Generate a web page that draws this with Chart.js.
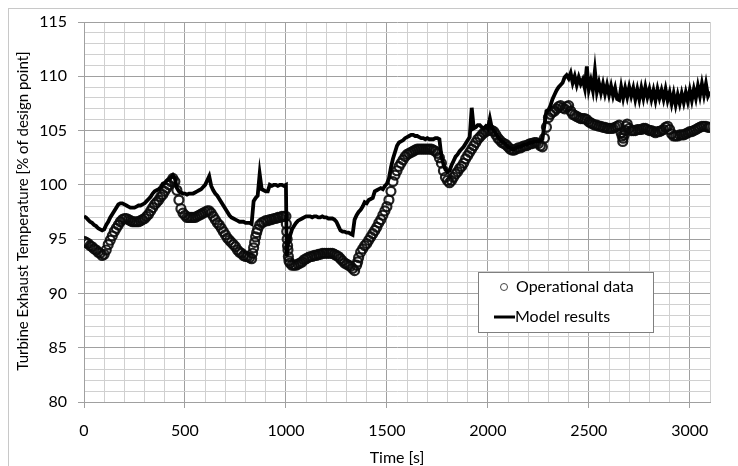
<!DOCTYPE html>
<html>
<head>
<meta charset="utf-8">
<script src="https://cdn.jsdelivr.net/npm/chart.js@4.4.1/dist/chart.umd.min.js"></script>
<style>
  html, body { margin: 0; padding: 0; background: #ffffff; }
  #wrap { position: relative; width: 738px; height: 466px; }
</style>
</head>
<body>
<div id="wrap"><canvas id="c" width="738" height="466"></canvas></div>
<script>
// ---------------- DATA ----------------
const xTitle = 'Time [s]';
const yTitle = 'Turbine Exhaust Temperature [% of design point]';
const seriesNames = ['Operational data', 'Model results'];
const xMajorTicks = [0, 500, 1000, 1500, 2000, 2500, 3000];
const yMajorTicks = [80, 85, 90, 95, 100, 105, 110, 115];
const sampleStep = 10; // seconds between listed samples

// Operational data, one value every 10 s from t = 0 to 3100 s
const opsValues = [
  94.8, 94.7, 94.6, 94.4, 94.3, 94.1, 94.0, 93.8, 93.7, 93.5,
  93.6, 94.0, 94.5, 94.9, 95.3, 95.7, 96.0, 96.3, 96.6, 96.8,
  96.9, 96.9, 96.8, 96.7, 96.6, 96.6, 96.6, 96.6, 96.7, 96.8,
  96.9, 97.1, 97.3, 97.6, 97.9, 98.2, 98.4, 98.6, 98.9, 99.1,
  99.4, 99.7, 100.0, 100.3, 100.6, 100.3, 99.5, 98.6, 97.8, 97.4,
  97.2, 97.0, 97.0, 97.0, 97.0, 97.0, 97.1, 97.2, 97.3, 97.4,
  97.5, 97.6, 97.6, 97.4, 97.1, 96.8, 96.5, 96.3, 96.0, 95.7,
  95.4, 95.1, 94.9, 94.7, 94.5, 94.3, 94.0, 93.8, 93.7, 93.5,
  93.4, 93.4, 93.3, 93.2, 94.2, 95.2, 95.9, 96.3, 96.5, 96.6,
  96.7, 96.7, 96.8, 96.8, 96.9, 96.9, 97.0, 97.0, 97.1, 97.1,
  97.1, 94.0, 92.8, 92.6, 92.6, 92.6, 92.7, 92.8, 92.9, 93.1,
  93.2, 93.3, 93.4, 93.4, 93.5, 93.5, 93.6, 93.6, 93.7, 93.7,
  93.7, 93.7, 93.7, 93.7, 93.6, 93.5, 93.4, 93.2, 93.0, 92.8,
  92.7, 92.6, 92.5, 92.3, 92.1, 92.6, 93.3, 93.8, 94.1, 94.4,
  94.6, 94.9, 95.2, 95.5, 95.8, 96.1, 96.5, 96.8, 97.2, 97.6,
  98.0, 98.6, 99.4, 100.3, 100.9, 101.3, 101.7, 102.0, 102.3, 102.6,
  102.8, 102.9, 103.0, 103.1, 103.2, 103.3, 103.3, 103.3, 103.3, 103.3,
  103.3, 103.3, 103.3, 103.2, 103.1, 102.9, 102.5, 102.0, 101.3, 100.7,
  100.4, 100.2, 100.4, 100.7, 101.0, 101.2, 101.5, 101.7, 102.0, 102.4,
  102.7, 103.0, 103.3, 103.6, 103.9, 104.2, 104.4, 104.6, 104.8, 104.9,
  105.0, 105.1, 105.0, 104.9, 104.6, 104.3, 104.1, 103.9, 103.8, 103.7,
  103.5, 103.3, 103.2, 103.2, 103.3, 103.4, 103.4, 103.5, 103.6, 103.6,
  103.7, 103.8, 103.8, 103.9, 103.9, 103.8, 103.6, 103.5, 104.3, 105.3,
  106.2, 106.5, 106.7, 106.8, 107.0, 107.2, 107.3, 107.1, 107.0, 107.2,
  107.3, 106.8, 106.5, 106.4, 106.3, 106.2, 106.1, 106.1, 106.1, 106.0,
  105.8, 105.7, 105.6, 105.5, 105.5, 105.4, 105.4, 105.3, 105.3, 105.2,
  105.2, 105.2, 105.2, 105.3, 105.4, 105.5, 104.8, 104.3, 105.0, 105.6,
  105.2, 105.0, 105.0, 105.0, 105.1, 105.1, 105.1, 105.2, 105.2, 105.1,
  105.0, 105.0, 104.9, 104.8, 104.9, 104.9, 105.0, 105.1, 105.3, 105.4,
  105.1, 104.7, 104.5, 104.5, 104.5, 104.6, 104.6, 104.6, 104.7, 104.8,
  104.9, 104.9, 105.0, 105.1, 105.2, 105.3, 105.4, 105.4, 105.4, 105.3,
  105.3
];
// Extra operational samples on the steep steps
const opsExtraTime  = [835, 845, 855, 1002, 1004, 1006, 1008, 1012, 1015, 1355, 2665, 2668, 2675, 2685];
const opsExtraValue = [93.7, 94.7, 95.6, 96.4, 95.7, 95.0, 94.4, 93.4, 93.0, 92.9, 104.5, 104.0, 104.6, 105.4];

// Model results, one value every 10 s from t = 0 to 3100 s
const modelValues = [
  97.1, 97.0, 96.8, 96.6, 96.5, 96.3, 96.2, 96.0, 95.9, 95.8,
  95.9, 96.3, 96.6, 97.0, 97.3, 97.6, 97.9, 98.2, 98.3, 98.3,
  98.2, 98.1, 98.0, 97.9, 97.9, 97.9, 98.0, 98.1, 98.1, 98.2,
  98.3, 98.5, 98.7, 98.9, 99.2, 99.4, 99.5, 99.6, 99.8, 100.1,
  100.2, 100.4, 100.5, 100.7, 100.9, 100.6, 99.7, 99.4, 99.3, 99.2,
  99.2, 99.1, 99.2, 99.2, 99.2, 99.3, 99.4, 99.5, 99.6, 99.8,
  100.0, 100.4, 100.8, 99.9, 99.5, 99.2, 99.0, 98.7, 98.4, 98.1,
  97.8, 97.5, 97.2, 97.0, 96.9, 96.8, 96.7, 96.6, 96.6, 96.6,
  96.5, 96.5, 96.5, 96.4, 98.5, 98.8, 99.0, 101.0, 99.6, 99.5,
  99.4, 99.4, 100.0, 99.9, 100.0, 100.0, 99.9, 100.0, 100.0, 99.9,
  100.0, 94.5, 95.3, 95.9, 96.2, 96.5, 96.7, 96.8, 96.9, 97.0,
  97.1, 97.1, 97.1, 97.0, 97.1, 97.1, 97.0, 97.0, 97.1, 97.0,
  97.0, 96.9, 96.9, 96.9, 96.8, 96.6, 96.2, 95.8, 95.7, 95.7,
  95.6, 95.6, 95.5, 95.4, 96.8, 97.2, 97.5, 97.7, 98.0, 98.4,
  98.3, 98.6, 98.7, 98.8, 99.4, 99.5, 99.6, 99.7, 99.6, 99.9,
  100.1, 100.6, 101.6, 102.4, 103.0, 103.6, 103.9, 104.0, 104.1, 104.3,
  104.4, 104.5, 104.6, 104.6, 104.5, 104.5, 104.4, 104.3, 104.3, 104.2,
  104.3, 104.2, 104.2, 104.2, 104.3, 104.3, 104.2, 102.6, 101.9, 101.4,
  101.2, 101.3, 101.8, 102.2, 102.6, 102.8, 103.1, 103.3, 103.5, 103.8,
  104.1, 104.4, 107.1, 105.2, 105.3, 105.5, 105.5, 105.3, 105.2, 105.4,
  105.2, 106.1, 105.2, 105.0, 104.7, 104.4, 104.2, 104.0, 103.9, 103.7,
  103.5, 103.4, 103.3, 103.3, 103.4, 103.5, 103.5, 103.6, 103.7, 103.7,
  103.8, 103.9, 103.9, 104.0, 104.0, 104.0, 104.1, 104.2, 105.5, 106.8,
  106.9, 107.3, 107.9, 108.3, 108.7, 109.0, 109.2, 109.4, 109.9, 110.1,
  109.8, 110.3, 109.4, 110.0, 109.2, 109.9, 109.3, 109.7, 108.9, 110.9,
  108.8, 109.6, 108.7, 110.5, 108.6, 109.4, 108.5, 109.3, 108.4, 109.2,
  108.3, 109.1, 108.2, 108.9, 107.9, 107.8, 109.0, 108.0, 108.9, 108.1,
  109.0, 108.2, 108.9, 107.9, 108.8, 107.9, 108.9, 108.0, 109.0, 108.1,
  108.8, 107.9, 108.7, 107.8, 108.8, 108.0, 108.7, 107.9, 108.8, 107.8,
  108.5, 107.5, 108.4, 107.4, 108.3, 107.5, 108.4, 107.6, 108.5, 107.7,
  108.7, 107.8, 108.8, 108.0, 109.1, 108.2, 109.3, 108.3, 109.3, 108.2,
  108.6
];
// Extra model sample at the sharp drop
const modelExtraTime  = [1004];
const modelExtraValue = [93.4];

// ---------------- build point lists ----------------
const opsPoints = opsValues.map((v, i) => ({ x: i * sampleStep, y: v }))
  .concat(opsExtraTime.map((t, i) => ({ x: t, y: opsExtraValue[i] })));
const modelPoints = modelValues.map((v, i) => ({ x: i * sampleStep, y: v }))
  .concat(modelExtraTime.map((t, i) => ({ x: t, y: modelExtraValue[i] })))
  .sort((a, b) => a.x - b.x);

const FONT = 'Lato, "Open Sans", sans-serif';
const MAJOR = '#a0a0a0';
const MINOR = '#d0d0d0';

const decor = {
  id: 'decor',
  beforeDraw(chart) {
    const c = chart.ctx;
    c.save();
    c.fillStyle = '#ffffff';
    c.fillRect(0, 0, chart.width, chart.height);
    c.restore();
  },
  afterDraw(chart) {
    const c = chart.ctx;
    const a = chart.chartArea;
    c.save();
    // outer chart border
    c.strokeStyle = '#c8c8c8';
    c.lineWidth = 1;
    c.strokeRect(8.5, 8.5, chart.width, chart.height);
    // axis titles
    c.fillStyle = '#000';
    c.textAlign = 'center';
    c.textBaseline = 'middle';
    c.font = '16px ' + FONT;
    c.fillText(xTitle, (a.left + a.right) / 2, 458);
    c.font = '15px ' + FONT;
    c.save();
    c.translate(23, 211);
    c.rotate(-Math.PI / 2);
    c.fillText(yTitle, 0, 0);
    c.restore();
    // legend
    const lx = 478.5, ly = 272.5, lw = 175, lh = 60;
    c.fillStyle = '#ffffff';
    c.fillRect(lx, ly, lw, lh);
    c.strokeStyle = '#7f7f7f';
    c.lineWidth = 1;
    c.strokeRect(lx, ly, lw, lh);
    c.beginPath();
    c.arc(504, 287, 3.5, 0, Math.PI * 2);
    c.strokeStyle = '#444';
    c.lineWidth = 1;
    c.stroke();
    c.beginPath();
    c.moveTo(494, 317);
    c.lineTo(515, 317);
    c.strokeStyle = '#000';
    c.lineWidth = 3;
    c.stroke();
    c.fillStyle = '#000';
    c.textAlign = 'left';
    c.textBaseline = 'middle';
    c.font = '16px ' + FONT;
    c.fillText(seriesNames[0], 516, 287);
    c.fillText(seriesNames[1], 515, 317);
    c.restore();
  }
};

new Chart(document.getElementById('c'), {
  type: 'scatter',
  data: {
    datasets: [
      {
        label: seriesNames[1],
        data: modelPoints,
        showLine: true,
        borderColor: '#000000',
        borderWidth: 3.8,
        pointRadius: 0,
        tension: 0,
        fill: false
      },
      {
        label: seriesNames[0],
        data: opsPoints,
        showLine: false,
        pointStyle: 'circle',
        pointRadius: 4.5,
        pointBorderWidth: 2.2,
        pointBorderColor: 'rgba(10,10,10,0.9)',
        pointBackgroundColor: 'rgba(255,255,255,0)'
      }
    ]
  },
  options: {
    responsive: false,
    animation: false,
    events: [],
    layout: { padding: { left: 0, top: 22, right: 28, bottom: 0 } },
    plugins: { legend: { display: false }, tooltip: { enabled: false } },
    scales: {
      x: {
        type: 'linear',
        min: 0, max: 3100,
        afterFit(s) { s.height = 64; },
        ticks: {
          stepSize: 100,
          autoSkip: false,
          maxRotation: 0,
          padding: 13,
          color: '#000',
          font: { family: FONT, size: 16 },
          callback: v => (xMajorTicks.includes(v) ? String(v) : '')
        },
        grid: {
          color: ctx => (ctx.tick && ctx.tick.value % 500 === 0 ? MAJOR : MINOR),
          tickColor: ctx => (ctx.tick && ctx.tick.value % 500 === 0 ? MAJOR : 'rgba(0,0,0,0)'),
          tickLength: 6,
          lineWidth: 1
        },
        border: { display: true, color: MAJOR }
      },
      y: {
        type: 'linear',
        min: 80, max: 115,
        afterFit(s) { s.width = 84; },
        ticks: {
          stepSize: 1,
          autoSkip: false,
          padding: 11,
          color: '#000',
          font: { family: FONT, size: 16 },
          callback: v => (yMajorTicks.includes(v) ? String(v) : '')
        },
        grid: {
          color: ctx => (ctx.tick && ctx.tick.value % 5 === 0 ? MAJOR : MINOR),
          tickColor: ctx => (ctx.tick && ctx.tick.value % 5 === 0 ? MAJOR : 'rgba(0,0,0,0)'),
          tickLength: 6,
          lineWidth: 1
        },
        border: { display: true, color: MAJOR }
      }
    }
  },
  plugins: [decor]
});
</script>
</body>
</html>
